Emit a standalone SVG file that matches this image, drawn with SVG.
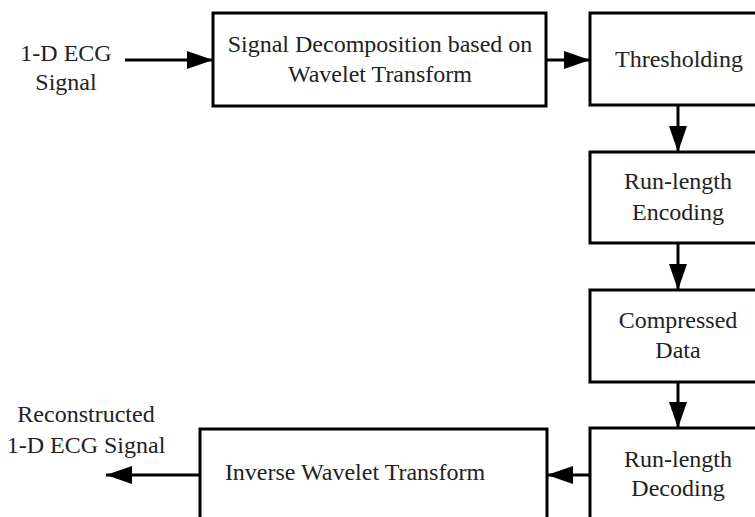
<svg xmlns="http://www.w3.org/2000/svg" width="755" height="517" viewBox="0 0 755 517">
<defs>
<style>
.box{fill:#fff;stroke:#000;stroke-width:3}
.ln{fill:none;stroke:#000;stroke-width:3}
text{font-family:"Liberation Serif","Times New Roman",serif;font-size:24px;fill:#222;text-anchor:middle}
</style>
<marker id="ah" markerUnits="userSpaceOnUse" markerWidth="26" markerHeight="18" refX="26" refY="9" orient="auto">
<path d="M0,0 L26,9 L0,18 Z" fill="#000"/>
</marker>
</defs>
<rect width="755" height="517" fill="#fff"/>
<g id="input">
<text x="66" y="61">1-D ECG</text>
<text x="66" y="90">Signal</text>
</g>
<g id="decomp">
<rect class="box" x="213" y="13" width="333" height="93"/>
<text x="380" y="52">Signal Decomposition based on</text>
<text x="380" y="82">Wavelet Transform</text>
</g>
<g id="thresh">
<rect class="box" x="590" y="13" width="180" height="92"/>
<text x="679" y="67">Thresholding</text>
</g>
<g id="rle">
<rect class="box" x="590" y="152" width="180" height="91"/>
<text x="678" y="189">Run-length</text>
<text x="678" y="220">Encoding</text>
</g>
<g id="comp">
<rect class="box" x="590" y="290" width="180" height="92"/>
<text x="678" y="328">Compressed</text>
<text x="678" y="358">Data</text>
</g>
<g id="rld">
<rect class="box" x="590" y="428" width="180" height="110"/>
<text x="678" y="467">Run-length</text>
<text x="678" y="496">Decoding</text>
</g>
<g id="iwt">
<rect class="box" x="200" y="429" width="347" height="110"/>
<text x="355" y="480">Inverse Wavelet Transform</text>
</g>
<g id="output">
<text x="86" y="422">Reconstructed</text>
<text x="86" y="453">1-D ECG Signal</text>
</g>
<g id="connectors">
<line class="ln" x1="125" y1="60" x2="213" y2="60" marker-end="url(#ah)"/>
<line class="ln" x1="546" y1="60" x2="590" y2="60" marker-end="url(#ah)"/>
<line class="ln" x1="678" y1="105" x2="678" y2="152" marker-end="url(#ah)"/>
<line class="ln" x1="678" y1="243" x2="678" y2="290" marker-end="url(#ah)"/>
<line class="ln" x1="678" y1="382" x2="678" y2="428" marker-end="url(#ah)"/>
<line class="ln" x1="590" y1="475" x2="547" y2="475" marker-end="url(#ah)"/>
<line class="ln" x1="200" y1="475" x2="106" y2="475" marker-end="url(#ah)"/>
</g>
</svg>
